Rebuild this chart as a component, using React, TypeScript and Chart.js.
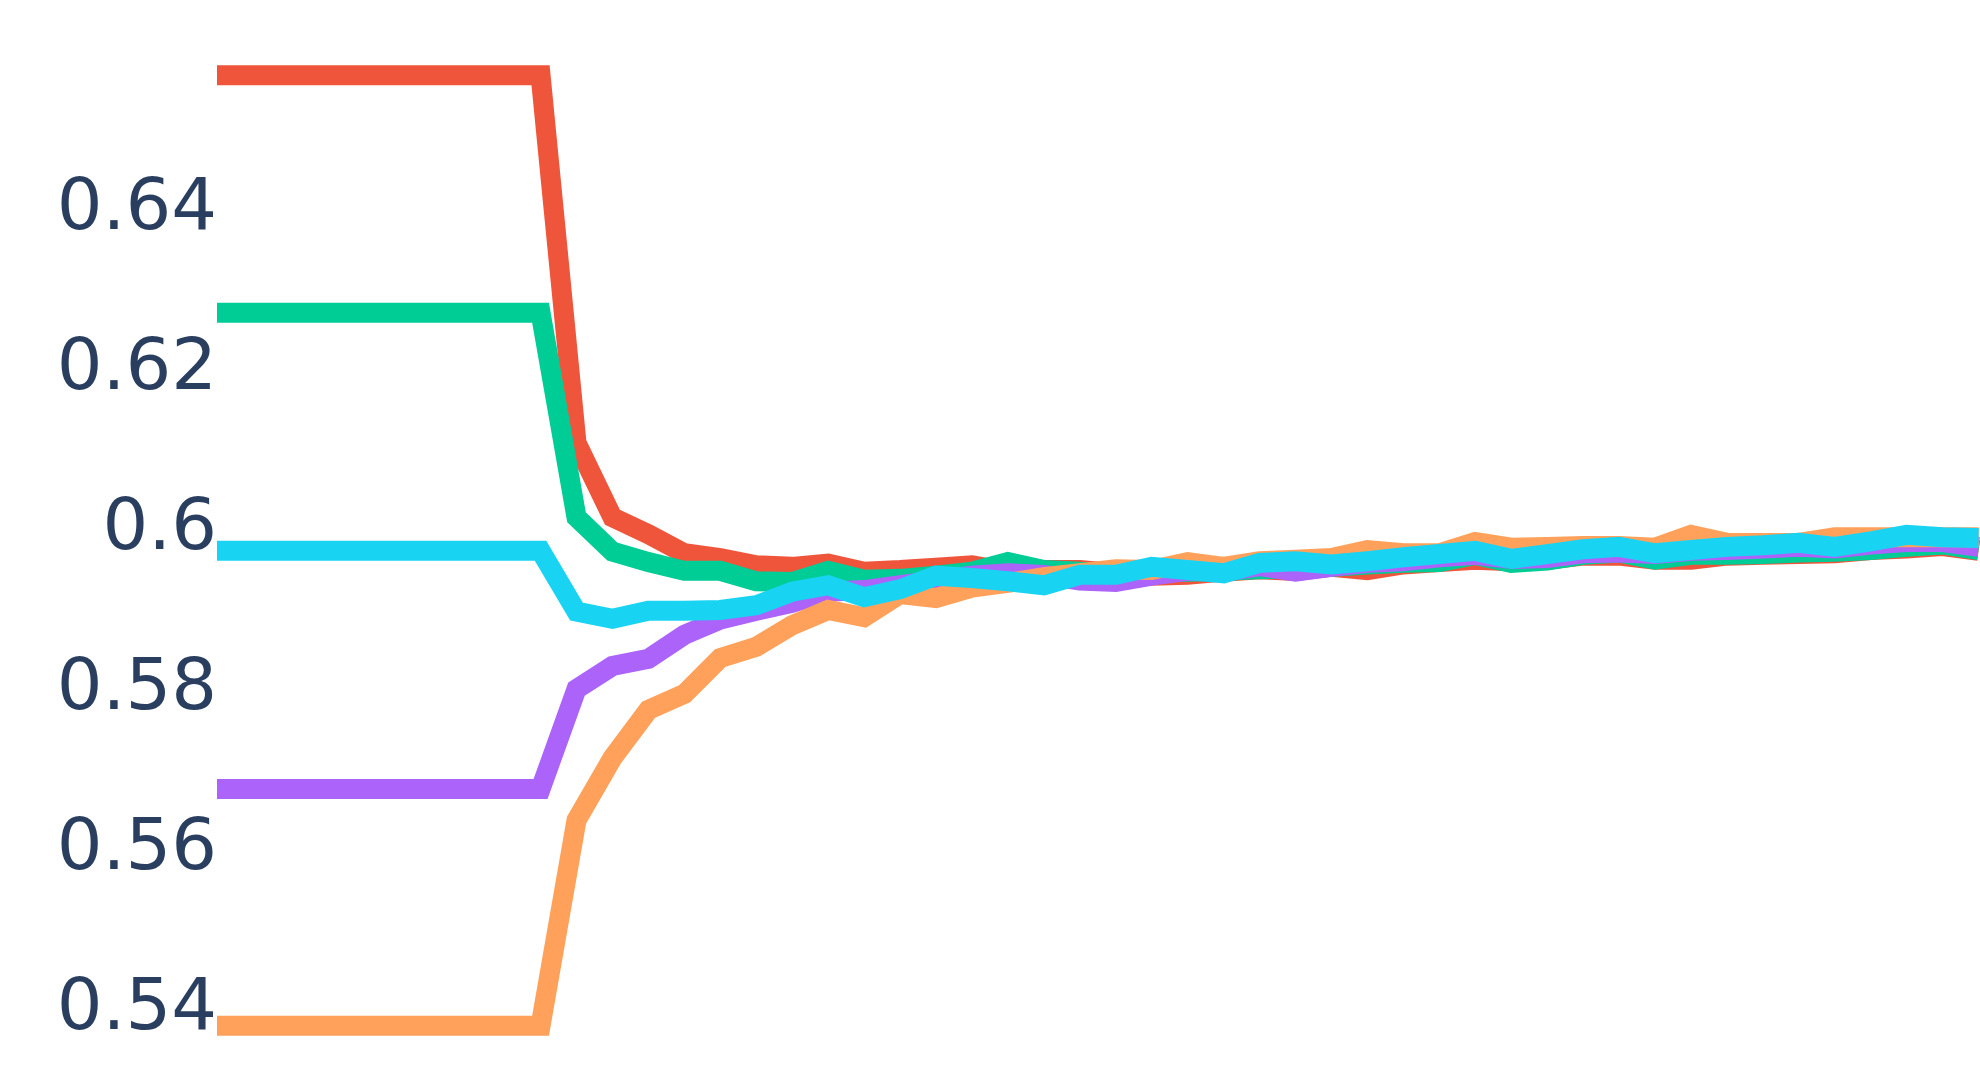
import React, { useEffect, useRef } from "react";
import { Chart, registerables } from "chart.js";

Chart.register(...registerables);

const steps = [
  0, 1, 2, 3, 4, 5, 6, 7, 8, 9,
  10, 11, 12, 13, 14, 15, 16, 17, 18, 19,
  20, 21, 22, 23, 24, 25, 26, 27, 28, 29,
  30, 31, 32, 33, 34, 35, 36, 37, 38, 39,
  40, 41, 42, 43, 44, 45, 46, 47, 48, 49,
];

const redSeries = [
  0.6563, 0.6563, 0.6563, 0.6563, 0.6563, 0.6563, 0.6563, 0.6563, 0.6563, 0.6563,
  0.6103, 0.601, 0.5989, 0.5965, 0.5959, 0.595, 0.5948, 0.5952, 0.5942, 0.5944,
  0.5947, 0.595, 0.5942, 0.5944, 0.5944, 0.594, 0.5937, 0.5938, 0.5942, 0.5945,
  0.5943, 0.5948, 0.5944, 0.5951, 0.5954, 0.5957, 0.5955, 0.5957, 0.5962, 0.5962,
  0.5957, 0.5957, 0.5962, 0.5963, 0.5964, 0.5965, 0.5969, 0.5971, 0.5974, 0.5968,
];

const greenSeries = [
  0.6266, 0.6266, 0.6266, 0.6266, 0.6266, 0.6266, 0.6266, 0.6266, 0.6266, 0.6266,
  0.601, 0.5967, 0.5954, 0.5943, 0.5943, 0.593, 0.5929, 0.5943, 0.5932, 0.5933,
  0.5937, 0.5942, 0.5954, 0.5944, 0.5942, 0.5941, 0.5941, 0.5942, 0.5943, 0.5945,
  0.5946, 0.5948, 0.5951, 0.5953, 0.5954, 0.5963, 0.5953, 0.5956, 0.5963, 0.5966,
  0.5957, 0.5963, 0.5963, 0.5964, 0.5966, 0.5967, 0.5969, 0.5973, 0.5976, 0.5969,
];

const purpleSeries = [
  0.567, 0.567, 0.567, 0.567, 0.567, 0.567, 0.567, 0.567, 0.567, 0.567,
  0.5795, 0.5824, 0.5833, 0.5863, 0.5882, 0.5893, 0.5903, 0.5917, 0.5919, 0.5925,
  0.5931, 0.5937, 0.594, 0.5938, 0.5931, 0.5929, 0.5937, 0.5943, 0.5942, 0.5949,
  0.5942, 0.5948, 0.5953, 0.5955, 0.596, 0.5963, 0.5958, 0.5959, 0.5965, 0.5966,
  0.5964, 0.5968, 0.5969, 0.5971, 0.5973, 0.5971, 0.5976, 0.5979, 0.5979, 0.5973,
];

const orangeSeries = [
  0.5374, 0.5374, 0.5374, 0.5374, 0.5374, 0.5374, 0.5374, 0.5374, 0.5374, 0.5374,
  0.5631, 0.5709, 0.5769, 0.5789, 0.5834, 0.5848, 0.5875, 0.5894, 0.5885, 0.5914,
  0.5909, 0.5922, 0.5928, 0.5935, 0.594, 0.5945, 0.5944, 0.5954, 0.5948, 0.5955,
  0.5957, 0.5959, 0.5969, 0.5965, 0.5965, 0.5979, 0.5972, 0.5973, 0.5974, 0.5974,
  0.5972, 0.5988, 0.5978, 0.5978, 0.5978, 0.5985, 0.5985, 0.5985, 0.5985, 0.5985,
];

const cyanSeries = [
  0.5968, 0.5968, 0.5968, 0.5968, 0.5968, 0.5968, 0.5968, 0.5968, 0.5968, 0.5968,
  0.5892, 0.5883, 0.5893, 0.5893, 0.5894, 0.59, 0.5917, 0.5925, 0.591, 0.592,
  0.5937, 0.5934, 0.593, 0.5925, 0.5938, 0.5938, 0.5948, 0.5944, 0.594, 0.5953,
  0.5955, 0.5951, 0.5955, 0.596, 0.5964, 0.5968, 0.5958, 0.5964, 0.597, 0.5973,
  0.5965, 0.5969, 0.5973, 0.5975, 0.5978, 0.5973, 0.598, 0.5988, 0.5985, 0.5984,
];

const yTicks = [0.54, 0.56, 0.58, 0.6, 0.62, 0.64];

export default function App() {
  const canvasRef = useRef<HTMLCanvasElement | null>(null);

  useEffect(() => {
    document.body.style.margin = "0";
    const canvas = canvasRef.current;
    if (!canvas) return;
    const mk = (label: string, data: number[], color: string, order: number) => ({
      label,
      data,
      borderColor: color,
      backgroundColor: color,
      borderWidth: 20,
      pointRadius: 0,
      pointHoverRadius: 0,
      tension: 0,
      fill: false,
      borderJoinStyle: "miter" as const,
      borderCapStyle: "butt" as const,
      order,
    });
    const chart = new Chart(canvas, {
      type: "line",
      data: {
        labels: steps,
        datasets: [
          mk("red", redSeries, "#EF553B", 5),
          mk("green", greenSeries, "#00CC96", 4),
          mk("purple", purpleSeries, "#AB63FA", 3),
          mk("orange", orangeSeries, "#FFA15A", 2),
          mk("cyan", cyanSeries, "#19D3F3", 1),
        ],
      },
      options: {
        animation: false,
        responsive: false,
        maintainAspectRatio: false,
        layout: { padding: 0 },
        plugins: {
          legend: { display: false },
          tooltip: { enabled: false },
        },
        scales: {
          x: {
            type: "linear",
            display: false,
            min: 0,
            max: 49.04,
          },
          y: {
            type: "linear",
            min: 0.53061,
            max: 0.66571,
            grid: { display: false, drawTicks: false },
            border: { display: false },
            afterFit: (scale: any) => {
              scale.width = 217;
              scale.paddingTop = 0;
              scale.paddingBottom = 0;
            },
            afterBuildTicks: (axis: any) => {
              axis.ticks = yTicks.map((v) => ({ value: v }));
            },
            ticks: {
              padding: 0,
              labelOffset: 5,
              color: "#2a3f5f",
              font: { family: "'DejaVu Sans'", size: 72 },
              callback: (v: any) => String(Number(Number(v).toFixed(2))),
            },
          },
        },
      },
    });
    return () => chart.destroy();
  }, []);

  return (
    <div style={{ width: 1980, height: 1080, background: "#fff" }}>
      <canvas ref={canvasRef} width={1980} height={1080} style={{ display: "block" }} />
    </div>
  );
}
